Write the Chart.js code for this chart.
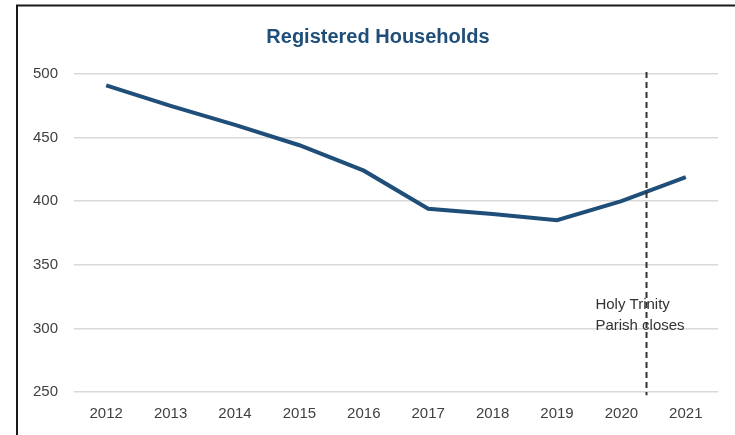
<!DOCTYPE html>
<html>
<head>
<meta charset="utf-8">
<script src="https://cdn.jsdelivr.net/npm/chart.js@4/dist/chart.umd.min.js"></script>
<style>
  html, body { margin: 0; padding: 0; background: #ffffff; }
  #wrap { width: 735px; height: 435px; position: relative; }
</style>
</head>
<body>
<div id="wrap"><canvas id="c" width="735" height="435"></canvas></div>
<script>
const titleText = 'Registered Households';
const years = ['2012','2013','2014','2015','2016','2017','2018','2019','2020','2021'];
const households = [491, 475, 460, 444, 424, 394, 390, 385, 400, 419];
const yTicks = [250, 300, 350, 400, 450, 500];
const closureIndex = 8.39; // position between 2020 and 2021 (category units)
const closureLabel = ['Holy Trinity', 'Parish closes'];

const FONT = "'Liberation Sans', Arial, sans-serif";
const LINE_COLOR = '#1F4E79';
const TEXT_COLOR = '#404040';

const framePlugin = {
  id: 'frame',
  beforeDraw(chart) {
    const ctx = chart.ctx;
    ctx.save();
    ctx.fillStyle = '#ffffff';
    ctx.fillRect(0, 0, chart.width, chart.height);
    ctx.strokeStyle = '#1a1a1a';
    ctx.lineWidth = 2;
    ctx.beginPath();
    ctx.moveTo(17, chart.height);
    ctx.lineTo(17, 5.5);
    ctx.lineTo(chart.width, 5.5);
    ctx.stroke();
    // chart title, centred over the framed box
    ctx.fillStyle = LINE_COLOR;
    ctx.font = 'bold 20px ' + FONT;
    ctx.textAlign = 'center';
    ctx.textBaseline = 'middle';
    ctx.fillText(titleText, 378, 37);
    ctx.restore();
  }
};

const closurePlugin = {
  id: 'closure',
  afterDatasetsDraw(chart) {
    const x = chart.scales.x;
    const y = chart.scales.y;
    const i0 = Math.floor(closureIndex);
    const frac = closureIndex - i0;
    const px = x.getPixelForValue(i0) + frac * (x.getPixelForValue(i0 + 1) - x.getPixelForValue(i0));
    const ctx = chart.ctx;
    ctx.save();
    ctx.strokeStyle = '#333333';
    ctx.lineWidth = 2;
    ctx.setLineDash([6, 4]);
    ctx.beginPath();
    ctx.moveTo(px, y.getPixelForValue(501.5));
    ctx.lineTo(px, y.getPixelForValue(247.5));
    ctx.stroke();
    ctx.setLineDash([]);
    ctx.fillStyle = '#333333';
    ctx.font = '15px ' + FONT;
    ctx.textAlign = 'left';
    ctx.textBaseline = 'middle';
    const tx = x.getPixelForValue(i0) - 26;
    const ty = y.getPixelForValue(310);
    ctx.fillText(closureLabel[0], tx, ty - 10.5);
    ctx.fillText(closureLabel[1], tx, ty + 10.5);
    ctx.restore();
  }
};

new Chart(document.getElementById('c'), {
  type: 'line',
  data: {
    labels: years,
    datasets: [{
      label: titleText,
      data: households,
      borderColor: LINE_COLOR,
      backgroundColor: LINE_COLOR,
      borderWidth: 4,
      pointRadius: 0,
      tension: 0,
      fill: false
    }]
  },
  options: {
    responsive: false,
    animation: false,
    devicePixelRatio: 1,
    layout: { padding: { left: 0, right: 17, top: 74, bottom: 0 } },
    plugins: {
      legend: { display: false },
      tooltip: { enabled: false },
      title: { display: false }
    },
    scales: {
      x: {
        offset: true,
        grid: { display: false, drawTicks: false },
        border: { display: false },
        ticks: { color: TEXT_COLOR, font: { family: FONT, size: 15 }, padding: 13, maxRotation: 0 },
        afterFit(scale) { scale.height = 43; }
      },
      y: {
        min: 250,
        max: 500,
        afterBuildTicks(scale) { scale.ticks = yTicks.map(v => ({ value: v })); },
        grid: { color: '#d9d9d9', lineWidth: 1.5, drawTicks: false },
        border: { display: false },
        ticks: { color: TEXT_COLOR, font: { family: FONT, size: 15 }, padding: 16 },
        afterFit(scale) { scale.width = 74; }
      }
    }
  },
  plugins: [framePlugin, closurePlugin]
});
</script>
</body>
</html>
